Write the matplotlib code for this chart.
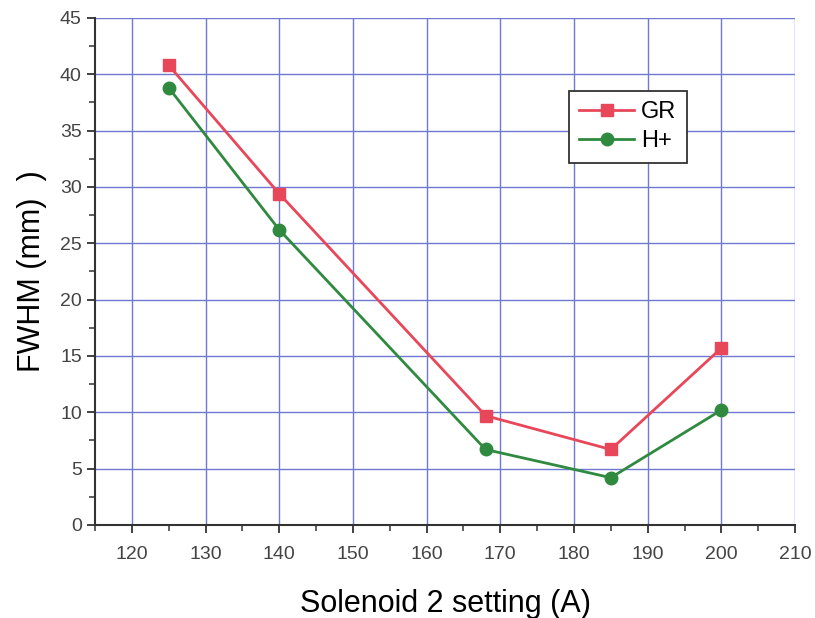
import matplotlib.pyplot as plt
from matplotlib.ticker import MultipleLocator

plt.rcParams['font.family'] = ['Liberation Sans', 'DejaVu Sans']

# FWHM vs solenoid 2 current
setting = [125, 140, 168, 185, 200]
fwhm_gr = [40.8, 29.4, 9.7, 6.7, 15.7]
fwhm_h = [38.8, 26.2, 6.7, 4.2, 10.2]

red = '#e8475a'
green = '#2f8a40'
grid_blue = '#6f78d2'

fig = plt.figure(figsize=(8.15, 6.18), dpi=100)
ax = fig.add_axes([0.1166, 0.1505, 0.8589, 0.8205])

ax.plot(setting, fwhm_gr, color=red, lw=2, marker='s', ms=9, label='GR', zorder=3)
ax.plot(setting, fwhm_h, color=green, lw=2, marker='o', ms=9, label='H+', zorder=3)

ax.set_xlim(115, 210)
ax.set_ylim(0, 45)
ax.xaxis.set_major_locator(MultipleLocator(10))
ax.xaxis.set_minor_locator(MultipleLocator(5))
ax.yaxis.set_major_locator(MultipleLocator(5))
ax.yaxis.set_minor_locator(MultipleLocator(2.5))

ax.grid(True, which='major', color=grid_blue, lw=1)
ax.set_axisbelow(True)
fig.canvas.draw()
ax.yaxis.get_gridlines()[-1].set_visible(False)
ax.xaxis.get_gridlines()[-1].set_visible(False)

for s in ['top', 'right']:
    ax.spines[s].set_visible(False)
for s in ['left', 'bottom']:
    ax.spines[s].set_color('#333333')
    ax.spines[s].set_linewidth(1.5)

ax.tick_params(which='major', direction='out', length=6, width=1.3, color='#333333',
               labelsize=14, labelcolor='#444444')
ax.tick_params(which='minor', direction='out', length=4, width=1.1, color='#333333')
ax.tick_params(axis='x', pad=9)

ax.set_xlabel('Solenoid 2 setting (A)', fontsize=22, labelpad=19)
ax.set_ylabel('FWHM (mm)  )', fontsize=22, labelpad=9)

leg = ax.legend(loc='upper left', bbox_to_anchor=(0.66, 0.88), fontsize=17,
                frameon=True, fancybox=False, handlelength=2.3, handletextpad=0.3,
                borderpad=0.45, labelspacing=0.3)
leg.get_frame().set_edgecolor('#333333')
leg.get_frame().set_linewidth(1.3)
leg.get_frame().set_alpha(1)

fig.savefig('out.png', dpi=100)
